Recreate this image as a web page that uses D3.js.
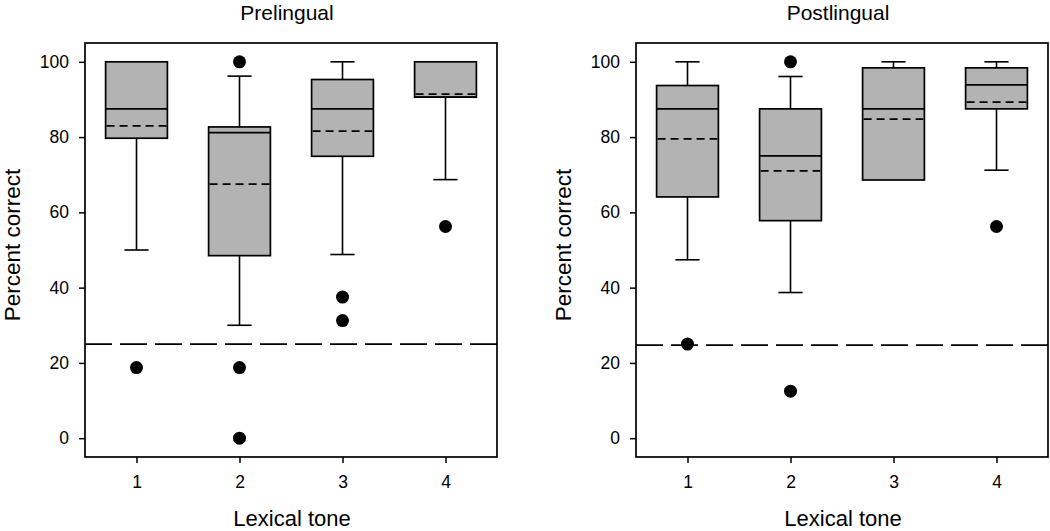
<!DOCTYPE html>
<html><head><meta charset="utf-8">
<script src="https://cdn.jsdelivr.net/npm/d3@7"></script>
<style>body{margin:0;background:#fff}svg{display:block}text{font-family:"Liberation Sans",Arial,sans-serif;fill:#000}</style>
</head><body><div id="c"></div>
<script>
const categories = [1, 2, 3, 4];
const yTicks = [0, 20, 40, 60, 80, 100];
const panelTitles = ["Prelingual", "Postlingual"];
const xTitle = "Lexical tone";
const yTitle = "Percent correct";

// Prelingual
const preWhiskerLow  = [50, 30, 48.8, 68.7];
const preQ1          = [79.7, 48.5, 74.9, 90.6];
const preMedian      = [87.5, 81.2, 87.5, 90.6];
const preQ3          = [100, 82.7, 95.3, 100];
const preWhiskerHigh = [100, 96.2, 100, 100];
const preMean        = [83.0, 67.5, 81.6, 91.4];
const preOutliers    = [[18.75], [100, 18.75, 0], [37.5, 31.25], [56.25]];
const preChance      = 25;

// Postlingual
const postWhiskerLow  = [47.4, 38.7, 68.6, 71.2];
const postQ1          = [64.1, 57.8, 68.6, 87.5];
const postMedian      = [87.5, 75.0, 87.5, 93.9];
const postQ3          = [93.7, 87.5, 98.4, 98.4];
const postWhiskerHigh = [100, 96.1, 100, 100];
const postMean        = [79.5, 71.0, 84.8, 89.3];
const postOutliers    = [[25], [100, 12.5], [], [56.25]];
const postChance      = 24.7;

const panels = [
  {title: panelTitles[0], lo: preWhiskerLow, q1: preQ1, med: preMedian, q3: preQ3, hi: preWhiskerHigh, mean: preMean, out: preOutliers, chance: preChance, left: 85},
  {title: panelTitles[1], lo: postWhiskerLow, q1: postQ1, med: postMedian, q3: postQ3, hi: postWhiskerHigh, mean: postMean, out: postOutliers, chance: postChance, left: 636}
];

const W = 1050, H = 531;
const plotTop = 43, plotBottom = 457, pw = 412;
const svg = d3.select("#c").append("svg").attr("width", W).attr("height", H);

const y = d3.scaleLinear().domain([-5, 105]).range([plotBottom, plotTop]);

panels.forEach(p => {
  const x = d3.scaleLinear().domain([0.5, 4.5]).range([p.left, p.left + pw]);
  const g = svg.append("g");
  const boxW = x(1.1) - x(0.5);
  const capW = x(0.735) - x(0.5);

  g.append("line").attr("x1", x(0.5)).attr("x2", x(4.5))
    .attr("y1", y(p.chance)).attr("y2", y(p.chance))
    .attr("stroke", "#000").attr("stroke-width", 1.7).attr("stroke-dasharray", "27,8");

  categories.forEach((c, i) => {
    const cx = x(c);
    if (p.lo[i] < p.q1[i]) {
      g.append("line").attr("x1", cx).attr("x2", cx).attr("y1", y(p.q1[i])).attr("y2", y(p.lo[i])).attr("stroke", "#000").attr("stroke-width", 1.6);
      g.append("line").attr("x1", cx - capW/2).attr("x2", cx + capW/2).attr("y1", y(p.lo[i])).attr("y2", y(p.lo[i])).attr("stroke", "#000").attr("stroke-width", 1.6);
    }
    if (p.hi[i] > p.q3[i]) {
      g.append("line").attr("x1", cx).attr("x2", cx).attr("y1", y(p.q3[i])).attr("y2", y(p.hi[i])).attr("stroke", "#000").attr("stroke-width", 1.6);
      g.append("line").attr("x1", cx - capW/2).attr("x2", cx + capW/2).attr("y1", y(p.hi[i])).attr("y2", y(p.hi[i])).attr("stroke", "#000").attr("stroke-width", 1.6);
    }
    g.append("rect").attr("x", cx - boxW/2).attr("width", boxW)
      .attr("y", y(p.q3[i])).attr("height", Math.max(0.5, y(p.q1[i]) - y(p.q3[i])))
      .attr("fill", "#b3b3b3").attr("stroke", "#000").attr("stroke-width", 1.7);
    g.append("line").attr("x1", cx - boxW/2).attr("x2", cx + boxW/2).attr("y1", y(p.med[i])).attr("y2", y(p.med[i])).attr("stroke", "#000").attr("stroke-width", 1.7);
    g.append("line").attr("x1", cx - boxW/2 + 1).attr("x2", cx + boxW/2 - 1).attr("y1", y(p.mean[i])).attr("y2", y(p.mean[i]))
      .attr("stroke", "#000").attr("stroke-width", 1.7).attr("stroke-dasharray", "8,5");
    p.out[i].forEach(v => {
      g.append("circle").attr("cx", cx).attr("cy", y(v)).attr("r", 6.5).attr("fill", "#000");
    });
  });

  g.append("rect").attr("x", p.left).attr("y", plotTop).attr("width", pw).attr("height", plotBottom - plotTop)
    .attr("fill", "none").attr("stroke", "#000").attr("stroke-width", 1.7);

  const ya = g.append("g").attr("transform", `translate(${p.left},0)`)
    .call(d3.axisLeft(y).tickValues(yTicks).tickSize(6).tickPadding(10));
  ya.select(".domain").remove();
  ya.selectAll(".tick line").attr("stroke-width", 1.5);
  ya.selectAll("text").attr("font-size", 17.5).attr("font-family", '"Liberation Sans", Arial, sans-serif').attr("fill", "#000");

  const xa = g.append("g").attr("transform", `translate(0,${plotBottom})`)
    .call(d3.axisBottom(x).tickValues(categories).tickFormat(d3.format("d")).tickSize(6).tickPadding(13));
  xa.select(".domain").remove();
  xa.selectAll(".tick line").attr("stroke-width", 1.5);
  xa.selectAll("text").attr("font-size", 17.5).attr("font-family", '"Liberation Sans", Arial, sans-serif').attr("fill", "#000");

  const mid = p.left + pw / 2;
  svg.append("text").attr("x", mid - 4).attr("y", 20).attr("text-anchor", "middle").attr("font-size", 21).text(p.title);
  svg.append("text").attr("x", mid + 1).attr("y", 526).attr("text-anchor", "middle").attr("font-size", 22).text(xTitle);
  svg.append("text").attr("transform", `translate(${p.left - 65},${245}) rotate(-90)`).attr("text-anchor", "middle").attr("font-size", 22.5).text(yTitle);
});
</script></body></html>
